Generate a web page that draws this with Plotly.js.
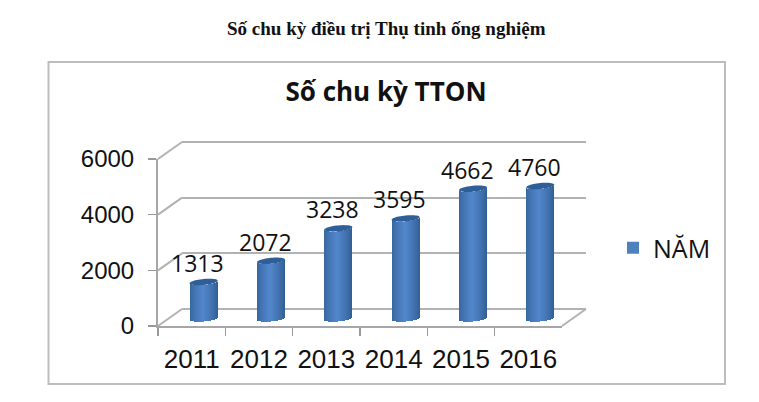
<!DOCTYPE html>
<html><head><meta charset="utf-8">
<script src="https://cdn.plot.ly/plotly-3.0.1.min.js"></script>
<style>html,body{margin:0;padding:0;background:#fff}</style></head>
<body><div id="c" style="width:759px;height:402px"></div>
<script>
const years = ['2011','2012','2013','2014','2015','2016'];
const cycles = [1313,2072,3238,3595,4662,4760];
const yTicks = [0,2000,4000,6000];
const seriesName = 'NĂM';
const pageHeading = 'Số chu kỳ điều trị Thụ tinh ống nghiệm';
const chartTitle = 'Số chu kỳ TTON';

const W=759,H=402;
const X0=158,X1=562,Y0=326,Y1=159;      // front plane, pixels
const BACK=[24,-17], MID=[12,-7.5];     // depth offsets, pixels
const px=v=>v/W, py=v=>1-v/H;
const dom=(o)=>({x:[px(X0+o[0]),px(X1+o[0])],y:[py(Y0+o[1]),py(Y1+o[1])]});
const dFront=dom([0,0]);
const unitPerPx=6000/(Y0-Y1);
// cylinder subplot reaches a little below zero so the rounded foot is not clipped
const FOOT=6, PAD=3;
const dMid={x:dom(MID).x,y:[py(Y0+MID[1]+FOOT),py(Y1+MID[1])]};
// back wall reaches a little past both ends so its first and last gridlines are kept
const dBack={x:dom(BACK).x,y:[py(Y0+BACK[1]+PAD),py(Y1+BACK[1]-PAD)]};
const HW=0.208, DY=3.0*unitPerPx, TILT=1.3*unitPerPx;
const N=28;
const idx=years.map((_,i)=>i);

function shade(t){ // t -1..1 across the cylinder
  const c=[[46,90,143],[82,135,204]];   // edge, centre
  const f=Math.pow(1-Math.abs(t+0.08)/1.08,0.7);
  const m=c[0].map((e,j)=>Math.round(e+(c[1][j]-e)*f));
  return `rgb(${m.join(',')})`;
}
const traces=[];
// invisible carrier so the back wall subplot is drawn
traces.push({type:'scatter',mode:'markers',x:idx,y:cycles,xaxis:'x',yaxis:'y',
  marker:{opacity:0},showlegend:false,hoverinfo:'skip'});
// invisible carrier of the category axis on the front plane
traces.push({type:'scatter',mode:'markers',x:years,y:cycles,xaxis:'x3',yaxis:'y3',
  marker:{opacity:0},showlegend:false,hoverinfo:'skip'});
// legend series
traces.push({type:'bar',name:seriesName,x:idx,y:cycles,width:0.0001,xaxis:'x2',yaxis:'y2',
  marker:{color:'#4f81bd',line:{width:0}},showlegend:true,hoverinfo:'skip'});
// cylinder body, strips across the width
for(let k=0;k<N;k++){
  const t=-1+(2*k+1)/N, w=2*HW/N;
  const s=Math.sqrt(Math.max(0,1-t*t));
  const b=-DY*s+TILT*t;
  traces.push({type:'bar',x:idx,y:cycles,base:cycles.map(()=>b),
    width:w*1.25,offset:t*HW-w*0.625,xaxis:'x2',yaxis:'y2',
    marker:{color:shade(t),line:{width:0}},showlegend:false,hoverinfo:'skip'});
}
function capPath(i,v){
  let p='';
  for(let a=0;a<48;a++){
    const r=a/48*2*Math.PI;
    p+=(a?'L':'M')+(i+HW*Math.cos(r))+','+(v+DY*Math.sin(r)+TILT*Math.cos(r));
  }
  return p+'Z';
}
const shapes=[];
// outer frame
shapes.push({type:'rect',xref:'paper',yref:'paper',x0:px(48.5),x1:px(725),y0:py(384),y1:py(62),
  line:{color:'#bdbdbd',width:2},fillcolor:'rgba(0,0,0,0)',layer:'below'});
// depth edges from front plane to back wall
const gridC='#b2b2b2';
yTicks.forEach(v=>{
  const yp=Y0-(v/6000)*(Y0-Y1);
  shapes.push({type:'line',xref:'paper',yref:'paper',x0:px(X0),y0:py(yp),x1:px(X0+BACK[0]),y1:py(yp+BACK[1]),
    line:{color:gridC,width:2},layer:'below'});
});
shapes.push({type:'line',xref:'paper',yref:'paper',x0:px(X1),y0:py(Y0),x1:px(X1+BACK[0]),y1:py(Y0+BACK[1]),
  line:{color:gridC,width:2},layer:'below'});
cycles.forEach((v,i)=>{
  shapes.push({type:'path',xref:'x2',yref:'y2',path:capPath(i,v),fillcolor:'#2f5f98',line:{width:0},layer:'above'});
});
const annotations=[{xref:'paper',yref:'paper',x:px(386.5),y:py(28),text:'<b>'+pageHeading+'</b>',showarrow:false,
  xanchor:'center',yanchor:'middle',font:{family:'"Liberation Serif",serif',size:19,color:'#111'}}];
cycles.forEach((v,i)=>{
  annotations.push({xref:'x2',yref:'y2',x:i,y:v,text:String(v),showarrow:false,xanchor:'center',yanchor:'middle',
    xshift:-6,yshift:19,font:{family:'"Open Sans",sans-serif',size:23,color:'#111'}});
});
const hidden={showgrid:false,zeroline:false,showline:false,showticklabels:false,ticks:''};
const layout={
  width:W,height:H,margin:{l:0,r:0,t:0,b:0},paper_bgcolor:'#fff',plot_bgcolor:'rgba(0,0,0,0)',
  barmode:'overlay',bargap:0,
  title:{text:'<b>'+chartTitle+'</b>',x:px(386),xanchor:'center',xref:'paper',y:py(92),yref:'paper',yanchor:'middle',
    font:{family:'"Open Sans",sans-serif',size:26,color:'#111'}},
  // back wall
  xaxis:{...hidden,domain:dBack.x,range:[-0.5,5.5],anchor:'y'},
  yaxis:{...hidden,domain:dBack.y,range:[-PAD*unitPerPx,6000+PAD*unitPerPx],anchor:'x',showgrid:true,gridcolor:gridC,gridwidth:2,
    zeroline:true,zerolinecolor:gridC,zerolinewidth:2,tickmode:'array',tickvals:yTicks},
  // cylinders
  xaxis2:{...hidden,domain:dMid.x,range:[-0.5,5.5],anchor:'y2'},
  yaxis2:{...hidden,domain:dMid.y,range:[-FOOT*unitPerPx,6000],anchor:'x2'},
  // front plane axes
  xaxis3:{type:'category',categoryorder:'array',categoryarray:years,domain:dFront.x,range:[-0.5,5.5],anchor:'y3',
    tickson:'boundaries',ticks:'outside',ticklen:8,tickwidth:1.5,tickcolor:'#999',showline:true,linecolor:'#a6a6a6',linewidth:2,
    showgrid:false,zeroline:false,tickangle:0,ticklabelstandoff:9,tickfont:{family:'"Liberation Sans",sans-serif',size:26,color:'#111'}},
  yaxis3:{domain:dFront.y,range:[0,6000],anchor:'x3',tickmode:'array',tickvals:yTicks,ticktext:yTicks.map(String),
    ticks:'outside',ticklen:8,tickwidth:1.5,tickcolor:'#999',showline:true,linecolor:'#a6a6a6',linewidth:2,
    showgrid:false,zeroline:false,ticklabelstandoff:9,tickfont:{family:'"Liberation Sans",sans-serif',size:24,color:'#111'}},
  legend:{x:px(613),y:py(248),xanchor:'left',yanchor:'middle',bgcolor:'rgba(0,0,0,0)',
    font:{family:'"Open Sans",sans-serif',size:25,color:'#111'}},
  shapes,annotations
};
Plotly.newPlot('c',traces,layout,{displayModeBar:false,staticPlot:true});
</script></body></html>
